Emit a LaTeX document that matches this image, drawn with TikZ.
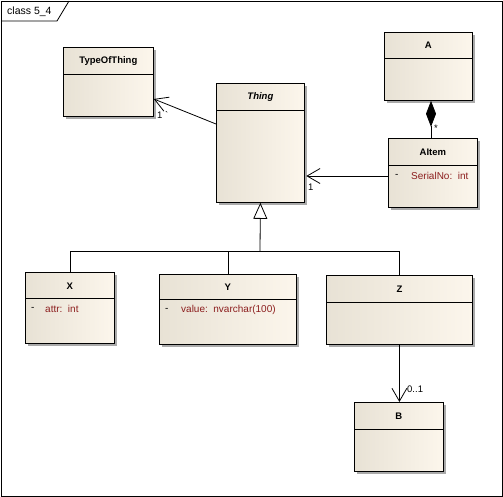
\documentclass[tikz,border=0pt]{standalone}
\usepackage{fontspec}
\setmainfont{Liberation Sans}
\usetikzlibrary{arrows.meta,shadows}
\definecolor{boxL}{RGB}{232,226,213}
\definecolor{boxR}{RGB}{252,246,236}
\definecolor{attrc}{RGB}{140,30,30}
\definecolor{shad}{RGB}{170,170,170}
\begin{document}
\begin{tikzpicture}[x=1pt,y=-1pt,
  cls/.style={draw=black, line width=0.8pt, left color=boxL, right color=boxR,
    drop shadow={shadow xshift=3pt, shadow yshift=-3pt, fill=shad, opacity=1},
    inner sep=0pt, anchor=north west},
  divl/.style={line width=0.8pt},
  ttl/.style={font=\fontsize{9.5}{11}\selectfont\bfseries, inner sep=0pt},
  attrtxt/.style={font=\fontsize{10}{12}\selectfont, text=attrc, inner sep=0pt, anchor=west},
  dashtxt/.style={font=\fontsize{10}{12}\selectfont, inner sep=0pt, anchor=west},
  lbl/.style={font=\fontsize{9.5}{11}\selectfont, inner sep=0pt, anchor=west},
  conn/.style={line width=0.8pt},
  openarr/.style={conn, -{Straight Barb[length=13pt,width=15pt]}},
  genarr/.style={conn, -{Triangle[open,length=16pt,width=14pt,fill=white]}},
  comparr/.style={conn, -{Diamond[length=26pt,width=10pt]}}
]
\useasboundingbox (0,0) rectangle (503,497);
\fill[white] (0,0) rectangle (503,497);
% frame
\draw[line width=0.8pt] (1,1) rectangle (502,496);
\draw[line width=0.8pt] (1,21) -- (57,21) -- (69,1);
\node[font=\fontsize{10.5}{12}\selectfont, inner sep=0pt, anchor=west] (frm) at (7,12) {class 5\_4};

% classes
\node[cls, minimum width=90pt, minimum height=69pt] (tot) at (63,47) {};
\draw[divl] (tot.west |- 0,74) -- (tot.east |- 0,74);
\node[ttl] (totn) at (tot.north |- 0,61) {TypeOfThing};

\node[cls, minimum width=88pt, minimum height=119pt] (thing) at (216,83) {};
\draw[divl] (thing.west |- 0,110) -- (thing.east |- 0,110);
\node[ttl] (thingn) at (thing.north |- 0,97) {\itshape Thing};

\node[cls, minimum width=88pt, minimum height=68pt] (A) at (384,32) {};
\draw[divl] (A.west |- 0,58) -- (A.east |- 0,58);
\node[ttl] (An) at (A.north |- 0,45) {A};

\node[cls, minimum width=89pt, minimum height=69pt] (aitem) at (388,138) {};
\draw[divl] (aitem.west |- 0,165) -- (aitem.east |- 0,165);
\node[ttl] (aitemn) at (aitem.north |- 0,152) {AItem};
\node[dashtxt] (aitemd) at (395,176) {-};
\node[attrtxt] (aitema) at (411,176) {SerialNo:\ \ int};

\node[cls, minimum width=89pt, minimum height=71pt] (X) at (25,272) {};
\draw[divl] (X.west |- 0,298) -- (X.east |- 0,298);
\node[ttl] (Xn) at (X.north |- 0,286) {X};
\node[dashtxt] (Xd) at (31,309) {-};
\node[attrtxt] (Xa) at (45,309) {attr:\ \ int};

\node[cls, minimum width=137pt, minimum height=70pt] (Y) at (159,274) {};
\draw[divl] (Y.west |- 0,299) -- (Y.east |- 0,299);
\node[ttl] (Yn) at (Y.north |- 0,287) {Y};
\node[dashtxt] (Yd) at (165,310) {-};
\node[attrtxt] (Ya) at (181,310) {value:\ \ nvarchar(100)};

\node[cls, minimum width=146pt, minimum height=69pt] (Z) at (326,275) {};
\draw[divl] (Z.west |- 0,302) -- (Z.east |- 0,302);
\node[ttl] (Zn) at (Z.north |- 0,289) {Z};

\node[cls, minimum width=89pt, minimum height=69pt] (B) at (354,402) {};
\draw[divl] (B.west |- 0,429) -- (B.east |- 0,429);
\node[ttl] (Bn) at (B.north |- 0,416) {B};

% connectors
\draw[openarr] (thing.west |- 0,124) -- (tot.east |- 0,99);
\node[lbl] (l1) at (157,115) {1 \textasciigrave};

\draw[openarr] (aitem.west |- 0,176) -- ([xshift=1.5pt]thing.east |- 0,176);
\node[lbl] (l2) at (308,187) {1};

\draw[comparr] (aitem.north -| 431,0) -- (A.south -| 431,0);
\node[lbl] (l3) at (434,128) {*};

\coordinate (bus) at (260,251);
\draw[conn] (X.north) |- (bus);
\draw[conn] (Y.north) |- (bus);
\draw[conn] (Z.north) |- (bus);
\draw[genarr] (bus) -- (thing.south);

\draw[openarr] (Z.south) -- (Z.south |- B.north);
\node[lbl] (l4) at (407,389) {0..1};
\end{tikzpicture}
\end{document}
